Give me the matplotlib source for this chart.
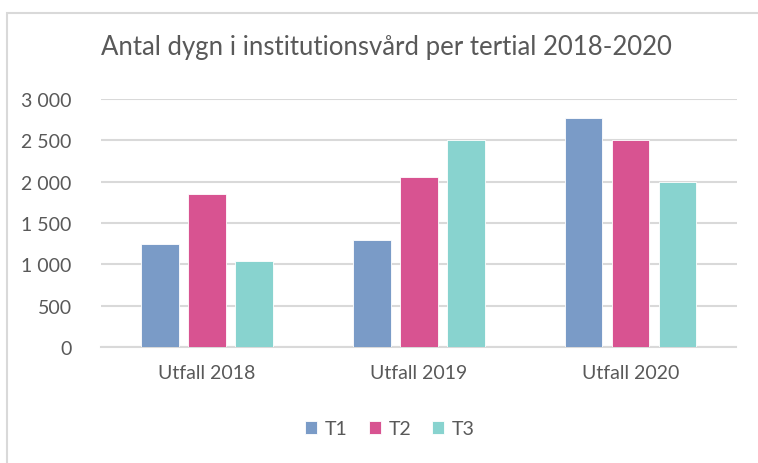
import matplotlib
import matplotlib.pyplot as plt
import numpy as np
from matplotlib.patches import Rectangle

matplotlib.use('Agg')

categories = ['Utfall 2018', 'Utfall 2019', 'Utfall 2020']
series_names = ['T1', 'T2', 'T3']
t1 = [1240, 1290, 2770]
t2 = [1850, 2060, 2500]
t3 = [1045, 2500, 1990]
yticks = [0, 500, 1000, 1500, 2000, 2500, 3000]
ytick_labels = ['0', '500', '1 000', '1 500', '2 000', '2 500', '3 000']
colors = ['#7a9bc7', '#d85391', '#88d3cf']

TEXT = '#595959'
GRID = '#d9d9d9'
plt.rcParams['font.family'] = ['Lato', 'DejaVu Sans']

fig = plt.figure(figsize=(7.58, 4.64), dpi=100)
# chart frame, cut off at the right and bottom like the screenshot
fig.patches.append(Rectangle((7 / 758, -0.1), 1.2, 1 - 14 / 464 + 0.1,
                             transform=fig.transFigure, fill=False,
                             edgecolor=GRID, linewidth=1.5))
ax = fig.add_axes([101 / 758, 1 - 348 / 464, (736.5 - 101) / 758, 248 / 464])

x = np.arange(len(categories))
step = 0.222
width = 0.178
for i, (name, vals) in enumerate(zip(series_names, [t1, t2, t3])):
    ax.bar(x + (i - 1) * step, vals, width, color=colors[i], label=name,
           edgecolor='white', linewidth=0.6, zorder=3)

ax.set_xlim(-0.5, 2.5)
ax.set_ylim(0, 3000)
ax.set_yticks(yticks)
ax.set_yticklabels(ytick_labels)
ax.set_xticks(x)
ax.set_xticklabels(categories)
ax.grid(axis='y', color=GRID, linewidth=1.5, zorder=0)
for s in ['top', 'right', 'left']:
    ax.spines[s].set_visible(False)
ax.spines['bottom'].set_color(GRID)
ax.spines['bottom'].set_linewidth(1.5)
ax.tick_params(axis='both', length=0, labelsize=14, colors=TEXT)
ax.tick_params(axis='y', pad=21)
ax.tick_params(axis='x', pad=12)

fig.text(386 / 758, 1 - 48 / 464, 'Antal dygn i institutionsvård per tertial 2018-2020',
         ha='center', va='center', fontsize=18.5, color=TEXT)

ax.legend(loc='center', bbox_to_anchor=(390 / 758, 1 - 430 / 464),
          bbox_transform=fig.transFigure, ncol=3, frameon=False,
          fontsize=14, labelcolor=TEXT, handlelength=0.6, handleheight=0.6,
          handletextpad=0.4, columnspacing=1.1)

fig.savefig('out.png', dpi=100)
